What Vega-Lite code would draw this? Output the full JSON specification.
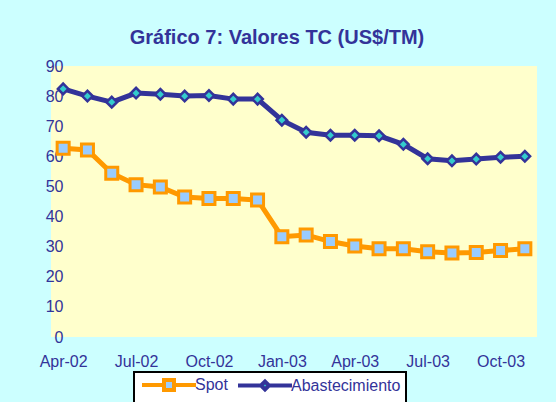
{
  "$schema": "https://vega.github.io/schema/vega-lite/v6.json",
  "autosize": {"type": "none"},
  "width": 486,
  "height": 271,
  "padding": {"left": 51, "top": 66, "right": 19, "bottom": 65},
  "background": "#CCFFFF",
  "title": {
    "text": "Gráfico 7: Valores TC (US$/TM)",
    "font": "Liberation Sans",
    "fontSize": 20,
    "fontWeight": "bold",
    "color": "#333399",
    "anchor": "middle",
    "dx": -17,
    "offset": 10
  },
  "config": {
    "view": {"fill": "#FFFFCC", "stroke": null},
    "font": "Liberation Sans",
    "legend": {"strokeWidth": 2}
  },
  "data": {
    "values": [
      {"month": "Apr-02", "series": "Spot", "value": 62.7},
      {"month": "May-02", "series": "Spot", "value": 62.1},
      {"month": "Jun-02", "series": "Spot", "value": 54.4},
      {"month": "Jul-02", "series": "Spot", "value": 50.6},
      {"month": "Aug-02", "series": "Spot", "value": 49.8},
      {"month": "Sep-02", "series": "Spot", "value": 46.5},
      {"month": "Oct-02", "series": "Spot", "value": 46.0},
      {"month": "Nov-02", "series": "Spot", "value": 46.0},
      {"month": "Dec-02", "series": "Spot", "value": 45.5},
      {"month": "Jan-03", "series": "Spot", "value": 33.3},
      {"month": "Feb-03", "series": "Spot", "value": 33.9},
      {"month": "Mar-03", "series": "Spot", "value": 31.7},
      {"month": "Apr-03", "series": "Spot", "value": 30.2},
      {"month": "May-03", "series": "Spot", "value": 29.3},
      {"month": "Jun-03", "series": "Spot", "value": 29.3},
      {"month": "Jul-03", "series": "Spot", "value": 28.3},
      {"month": "Aug-03", "series": "Spot", "value": 27.9},
      {"month": "Sep-03", "series": "Spot", "value": 28.1},
      {"month": "Oct-03", "series": "Spot", "value": 28.7},
      {"month": "Nov-03", "series": "Spot", "value": 29.3},
      {"month": "Apr-02", "series": "Abastecimiento", "value": 82.4},
      {"month": "May-02", "series": "Abastecimiento", "value": 80.0},
      {"month": "Jun-02", "series": "Abastecimiento", "value": 78.0},
      {"month": "Jul-02", "series": "Abastecimiento", "value": 81.0},
      {"month": "Aug-02", "series": "Abastecimiento", "value": 80.6},
      {"month": "Sep-02", "series": "Abastecimiento", "value": 80.0},
      {"month": "Oct-02", "series": "Abastecimiento", "value": 80.2},
      {"month": "Nov-02", "series": "Abastecimiento", "value": 79.0},
      {"month": "Dec-02", "series": "Abastecimiento", "value": 79.0},
      {"month": "Jan-03", "series": "Abastecimiento", "value": 72.0},
      {"month": "Feb-03", "series": "Abastecimiento", "value": 68.0},
      {"month": "Mar-03", "series": "Abastecimiento", "value": 67.0},
      {"month": "Apr-03", "series": "Abastecimiento", "value": 67.0},
      {"month": "May-03", "series": "Abastecimiento", "value": 66.8},
      {"month": "Jun-03", "series": "Abastecimiento", "value": 64.0},
      {"month": "Jul-03", "series": "Abastecimiento", "value": 59.2},
      {"month": "Aug-03", "series": "Abastecimiento", "value": 58.5},
      {"month": "Sep-03", "series": "Abastecimiento", "value": 59.1},
      {"month": "Oct-03", "series": "Abastecimiento", "value": 59.7},
      {"month": "Nov-03", "series": "Abastecimiento", "value": 60.0}
    ]
  },
  "encoding": {
    "x": {
      "field": "month",
      "type": "ordinal",
      "sort": null,
      "scale": {"type": "point", "padding": 0.5},
      "axis": {
        "title": null,
        "values": ["Apr-02", "Jul-02", "Oct-02", "Jan-03", "Apr-03", "Jul-03", "Oct-03"],
        "labelAngle": 0,
        "ticks": false,
        "domain": false,
        "grid": false,
        "labelPadding": 16,
        "labelFontSize": 16,
        "labelColor": "#333399",
        "labelFont": "Liberation Sans"
      }
    },
    "y": {
      "field": "value",
      "type": "quantitative",
      "scale": {"domain": [0, 90], "nice": false},
      "axis": {
        "title": null,
        "values": [0, 10, 20, 30, 40, 50, 60, 70, 80, 90],
        "ticks": false,
        "domain": false,
        "grid": false,
        "labelPadding": -12,
        "labelFontSize": 16,
        "labelColor": "#333399",
        "labelFont": "Liberation Sans"
      }
    }
  },
  "layer": [
    {
      "transform": [{"filter": "datum.series === 'Spot'"}],
      "mark": {"type": "line", "color": "#FF9900", "strokeWidth": 5}
    },
    {
      "transform": [{"filter": "datum.series === 'Abastecimiento'"}],
      "mark": {"type": "line", "color": "#333399", "strokeWidth": 5}
    },
    {
      "transform": [{"filter": "datum.series === 'Spot'"}],
      "mark": {"type": "point", "shape": "square", "filled": true, "fill": "#99CCFF", "stroke": "#FF9900", "strokeWidth": 3, "size": 144, "opacity": 1}
    },
    {
      "transform": [{"filter": "datum.series === 'Abastecimiento'"}],
      "mark": {"type": "point", "shape": "diamond", "filled": true, "fill": "#33CCCC", "stroke": "#333399", "strokeWidth": 2.5, "size": 110, "opacity": 1}
    },
    {
      "mark": {"type": "point", "opacity": 0, "size": 100, "strokeWidth": 4},
      "encoding": {
        "shape": {
          "field": "series",
          "type": "nominal",
          "scale": {
            "domain": ["Spot", "Abastecimiento"],
            "range": ["M-5.4,0H-1M1,0H5.4M-1,-1H1V1H-1Z", "M-5.4,0H-0.8M0.8,0H5.4M-0.8,0L0,-0.8L0.8,0L0,0.8Z"]
          },
          "legend": {
            "orient": "none",
            "legendX": 83,
            "legendY": 306,
            "direction": "horizontal",
            "title": null,
            "fillColor": "#FFFFFF",
            "strokeColor": "#000000",
            "padding": 5,
            "symbolSize": 100,
            "symbolOpacity": 1,
            "symbolStrokeWidth": 4,
            "symbolOffset": 22,
            "labelOffset": 18,
            "columnPadding": 2,
            "labelFontSize": 16,
            "labelColor": "#333399",
            "labelFont": "Liberation Sans"
          }
        },
        "fill": {
          "field": "series",
          "type": "nominal",
          "scale": {"domain": ["Spot", "Abastecimiento"], "range": ["#99CCFF", "#33CCCC"]}
        },
        "stroke": {
          "field": "series",
          "type": "nominal",
          "scale": {"domain": ["Spot", "Abastecimiento"], "range": ["#FF9900", "#333399"]}
        }
      }
    }
  ]
}
